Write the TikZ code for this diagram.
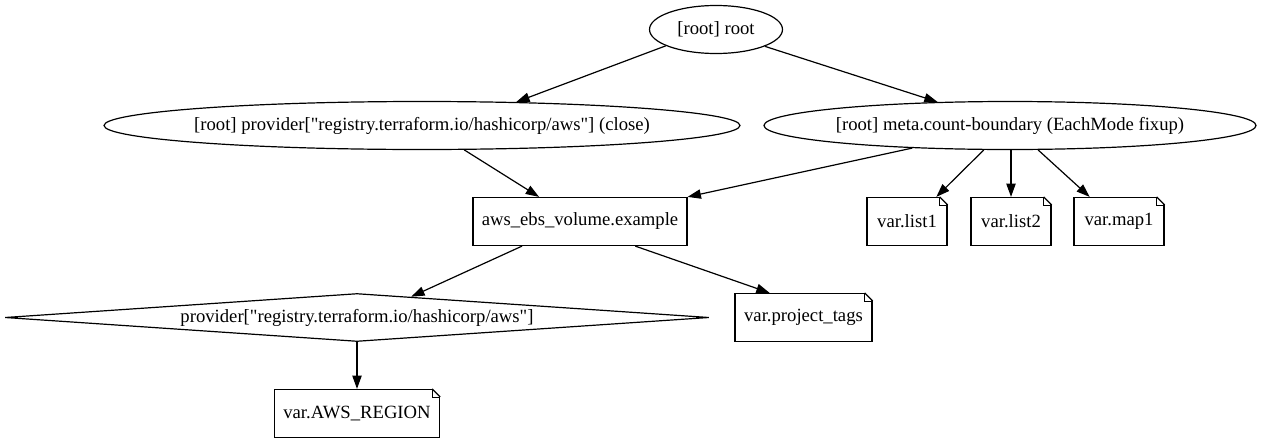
\documentclass[tikz,border=0pt]{standalone}
\usepackage{fontspec}
\setmainfont{Liberation Serif}[Ligatures=TeXOff]
\usetikzlibrary{shapes.geometric,arrows.meta}
\begin{document}
\begin{tikzpicture}[x=0.75pt,y=-0.75pt,
  every node/.style={font=\fontsize{14pt}{16pt}\selectfont},
  ell/.style={ellipse,draw,line width=0.9pt,inner sep=0pt,minimum height=36pt},
  dia/.style={diamond,draw,line width=0.9pt,inner sep=0pt,minimum height=36pt},
  boxn/.style={rectangle,draw,line width=0.9pt,inner sep=0pt,minimum height=36pt},
  notebox/.style={rectangle,draw,line width=0.9pt,inner sep=0pt,minimum height=36pt},
  edge/.style={line width=0.9pt,-{Triangle[length=10pt,width=7pt]}}]
\useasboundingbox (0,0) rectangle (1263,443);
\node[ell,minimum width=99.75pt] (root) at (716,29.5) {\makebox[0pt]{[root] root}};
\node[ell,minimum width=477pt] (prov) at (422,125.5) {\makebox[0pt]{[root] provider["registry.terraform.io/hashicorp/aws"] (close)}};
\node[ell,minimum width=369pt] (meta) at (1010,125.5) {\makebox[0pt]{[root] meta.count-boundary (EachMode fixup)}};
\node[boxn,minimum width=160.5pt] (aws) at (580,221.5) {aws\_ebs\_volume.example};
\node[notebox,minimum width=60pt] (list1) at (907,221.5) {var.list1};
\node[notebox,minimum width=60pt] (list2) at (1011,221.5) {var.list2};
\node[notebox,minimum width=67.5pt] (map1) at (1119,221.5) {var.map1};
\node[dia,minimum width=528pt] (pdia) at (357,317.5) {\makebox[0pt]{provider["registry.terraform.io/hashicorp/aws"]}};
\node[notebox,minimum width=102.75pt] (tags) at (803.5,317.5) {var.project\_tags};
\node[notebox,minimum width=123.75pt] (region) at (357,413.5) {var.AWS\_REGION};
% folded corners of the notes
\foreach \n in {list1,list2,map1,tags,region}{
  \fill[white] ([xshift=-6pt]\n.north east) -- ([xshift=-6pt,yshift=1.5pt]\n.north east)
     -- ([xshift=1.5pt,yshift=1.5pt]\n.north east) -- ([xshift=1.5pt,yshift=-6pt]\n.north east)
     -- ([yshift=-6pt]\n.north east) -- cycle;
  \draw[line width=0.9pt,line join=miter] ([xshift=-6pt]\n.north east) -- ([yshift=-6pt]\n.north east);
  \draw[line width=0.6pt] ([xshift=-6pt]\n.north east) -- ([xshift=-6pt,yshift=-6pt]\n.north east) -- ([yshift=-6pt]\n.north east);
}
\draw[edge] (root.198) -- (prov.14);
\draw[edge] (root.341) -- (meta.162.6);
\draw[edge] (prov.330) -- (aws.149);
\draw[edge] (meta.193.2) -- (aws.north east);
\draw[edge] (meta.223.8) -- (list1.40.6);
\draw[edge] (meta.south -| list2.north) -- (list2.north);
\draw[edge] (meta.319.4) -- (map1.140.4);
\draw[edge] (aws.203.6) -- (pdia.21.8);
\draw[edge] (aws.336.4) -- (tags.144.4);
\draw[edge] (pdia.south) -- (region.north);
\end{tikzpicture}
\end{document}
